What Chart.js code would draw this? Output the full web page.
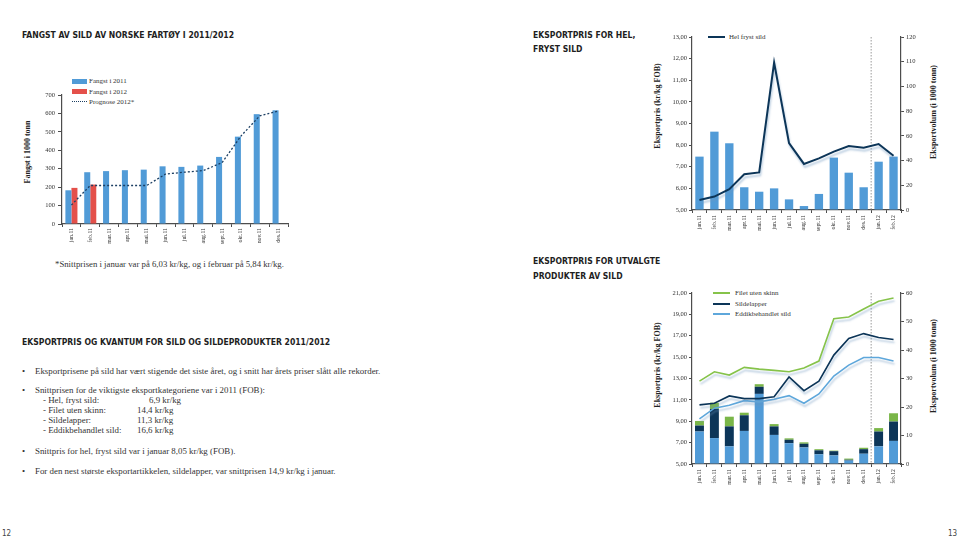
<!DOCTYPE html>
<html><head><meta charset="utf-8">
<script src="https://cdn.jsdelivr.net/npm/chart.js@4"></script>
<style>
body{margin:0;background:#fff;}
#page{position:relative;width:959px;height:538px;overflow:hidden;background:#fff;font-family:'Liberation Serif','DejaVu Serif',serif;color:#2a2a2a;}
.h{position:absolute;font-family:'Liberation Sans Narrow','DejaVu Sans Condensed',sans-serif;font-weight:bold;font-size:9.3px;color:#1e1e1e;white-space:nowrap;line-height:14px;transform:scaleX(0.92);transform-origin:0 0;}
.t{position:absolute;font-size:8.9px;white-space:nowrap;line-height:10px;color:#333;}
canvas{position:absolute;}
.lg{position:absolute;font-size:7px;white-space:nowrap;line-height:8px;color:#333;}
.sw{position:absolute;}
.vt{position:absolute;font-weight:bold;font-size:8px;white-space:nowrap;line-height:9px;color:#222;transform:translate(-50%,-50%) rotate(-90deg);}
.pn{position:absolute;font-family:'Liberation Sans Narrow','DejaVu Sans Condensed',sans-serif;font-size:8px;line-height:10px;color:#444;}
</style></head>
<body>
<div id="page">
  <div class="h" style="left:22px;top:28px;">FANGST AV SILD AV NORSKE FARTØY I 2011/2012</div>
  <div class="h" style="left:533px;top:28px;">EKSPORTPRIS FOR HEL,<br>FRYST SILD</div>
  <div class="h" style="left:533px;top:254px;line-height:14.5px;">EKSPORTPRIS FOR UTVALGTE<br>PRODUKTER AV SILD</div>
  <div class="h" style="left:22px;top:334.5px;">EKSPORTPRIS OG KVANTUM FOR SILD OG SILDEPRODUKTER 2011/2012</div>

  <div class="t" style="left:22px;top:366px;">•</div>
  <div class="t" style="left:35px;top:366px;">Eksportprisene på sild har vært stigende det siste året, og i snitt har årets priser slått alle rekorder.</div>
  <div class="t" style="left:22px;top:384.5px;">•</div>
  <div class="t" style="left:35px;top:384.5px;">Snittprisen for de viktigste eksportkategoriene var i 2011 (FOB):</div>
  <div class="t" style="left:43px;top:394.5px;">- Hel, fryst sild:</div>
  <div class="t" style="left:149px;top:394.5px;">6,9 kr/kg</div>
  <div class="t" style="left:43px;top:404.5px;">- Filet uten skinn:</div>
  <div class="t" style="left:137px;top:404.5px;">14,4 kr/kg</div>
  <div class="t" style="left:43px;top:414.5px;">- Sildelapper:</div>
  <div class="t" style="left:137px;top:414.5px;">11,3 kr/kg</div>
  <div class="t" style="left:43px;top:424.5px;">- Eddikbehandlet sild:</div>
  <div class="t" style="left:137px;top:424.5px;">16,6 kr/kg</div>
  <div class="t" style="left:22px;top:445.5px;">•</div>
  <div class="t" style="left:35px;top:445.5px;">Snittpris for hel, fryst sild var i januar 8,05 kr/kg (FOB).</div>
  <div class="t" style="left:22px;top:466px;">•</div>
  <div class="t" style="left:35px;top:466px;">For den nest største eksportartikkelen, sildelapper, var snittprisen 14,9 kr/kg i januar.</div>

  <div class="t" style="left:55px;top:259px;font-size:8.75px;">*Snittprisen i januar var på 6,03 kr/kg, og i februar på 5,84 kr/kg.</div>

  <div class="pn" style="left:2px;top:529px;">12</div>
  <div class="pn" style="left:948px;top:529px;">13</div>

  <!-- axis titles -->
  <div class="vt" style="left:26.7px;top:151.7px;">Fangst i 1000 tonn</div>
  <div class="vt" style="left:656.5px;top:106.3px;">Eksportpris (kr/kg FOB)</div>
  <div class="vt" style="left:932.7px;top:111.7px;">Eksportvolum (i 1000 tonn)</div>
  <div class="vt" style="left:657px;top:365px;">Eksportpris (kr/kg FOB)</div>
  <div class="vt" style="left:932.7px;top:365.8px;">Eksportvolum (i 1000 tonn)</div>

  <!-- legends -->
  <div class="sw" style="left:72px;top:78.5px;width:15px;height:5px;background:#519bd7;"></div>
  <div class="lg" style="left:89px;top:77px;">Fangst i 2011</div>
  <div class="sw" style="left:72px;top:89.2px;width:15px;height:5px;background:#e4504a;"></div>
  <div class="lg" style="left:89px;top:87.7px;">Fangst i 2012</div>
  <div class="sw" style="left:72px;top:101px;width:15px;height:0;border-top:1.3px dotted #1c3f63;"></div>
  <div class="lg" style="left:89px;top:97.7px;">Prognose 2012*</div>

  <div class="sw" style="left:708px;top:35.7px;width:17px;height:2px;background:#0c3558;"></div>
  <div class="lg" style="left:729px;top:32.7px;">Hel fryst sild</div>

  <div class="sw" style="left:713px;top:291.7px;width:17px;height:2px;background:#86c34a;"></div>
  <div class="lg" style="left:735px;top:288.7px;">Filet uten skinn</div>
  <div class="sw" style="left:713px;top:302.7px;width:17px;height:2px;background:#0c3558;"></div>
  <div class="lg" style="left:735px;top:299.7px;">Sildelapper</div>
  <div class="sw" style="left:713px;top:313px;width:17px;height:2px;background:#5ea7db;"></div>
  <div class="lg" style="left:735px;top:310px;">Eddikbehandlet sild</div>

  <canvas id="c1" width="273" height="170" style="left:18px;top:85px;"></canvas>
  <canvas id="c2" width="278" height="218" style="left:648px;top:27px;"></canvas>
  <canvas id="c3" width="278" height="216" style="left:648px;top:283px;"></canvas>
</div>
<script>
// ---- Chart 1: Fangst av sild ----
const months2011 = ['jan.11','feb.11','mar.11','apr.11','mai.11','jun.11','jul.11','aug.11','sept.11','okt.11','nov.11','des.11'];
const fangst2011 = [183, 281, 287, 292, 295, 313, 310, 317, 364, 474, 596, 617];
const fangst2012 = [196, 214, null, null, null, null, null, null, null, null, null, null];
const prognose2012 = [103, 209, 209, 209, 209, 271, 281, 290, 333, 477, 587, 614];

// ---- Chart 2: Hel fryst sild ----
const months1112 = ['jan.11','feb.11','mar.11','apr.11','mai.11','jun.11','jul.11','aug.11','sept.11','okt.11','nov.11','des.11','jan.12','feb.12'];
const helFrystPris = [5.46, 5.62, 5.96, 6.65, 6.74, 11.82, 8.09, 7.13, 7.39, 7.70, 7.96, 7.88, 8.05, 7.51];
const helFrystVolum = [43.2, 63.4, 54.0, 18.4, 14.8, 17.5, 8.6, 3.2, 13.0, 42.4, 30.2, 18.4, 39.1, 43.2];
const rightTicks2 = ['0','20','40','60','80','100','110','120'];

// ---- Chart 3: Utvalgte produkter ----
const prisFilet = [12.76, 13.63, 13.32, 14.04, 13.88, 13.76, 13.63, 13.98, 14.63, 18.60, 18.76, 19.50, 20.22, 20.53];
const prisSildelapper = [10.53, 10.68, 11.37, 11.12, 11.12, 11.30, 13.14, 11.86, 12.76, 15.19, 16.74, 17.20, 16.83, 16.65];
const prisEddik = [9.22, 10.22, 10.50, 10.93, 10.81, 11.06, 11.40, 10.68, 11.55, 13.23, 14.25, 14.97, 14.97, 14.63];
const volumEddik = [11.4, 9.1, 6.2, 11.6, 24.6, 10.2, 7.3, 5.8, 3.4, 3.0, 1.2, 3.6, 6.2, 8.1];
const volumSildelapper = [2.1, 10.2, 7.0, 5.5, 2.5, 3.0, 1.2, 1.3, 1.4, 1.5, 0.3, 1.6, 5.2, 6.8];
const volumFilet = [1.6, 2.2, 3.4, 0.9, 0.9, 0.8, 0.5, 0.5, 0.4, 0.2, 0.4, 0.5, 1.2, 2.9];

Chart.defaults.font.family = "'Liberation Serif','DejaVu Serif',serif";
Chart.defaults.color = '#333';
const axisColor = '#4d4d4d';

const shadowPlugin = {
  id: 'lineShadow',
  beforeDatasetDraw(chart, args) {
    const ds = chart.data.datasets[args.index];
    if (ds.shadow) {
      const c = chart.ctx; c.save();
      c.shadowColor = 'rgba(110,150,190,0.45)';
      c.shadowBlur = 2; c.shadowOffsetX = 1; c.shadowOffsetY = 3;
    }
  },
  afterDatasetDraw(chart, args) {
    const ds = chart.data.datasets[args.index];
    if (ds.shadow) chart.ctx.restore();
  }
};
const sepPlugin = {
  id: 'sep',
  beforeDatasetsDraw(chart) {
    const x = chart.scales.x;
    const px = (x.getPixelForValue(11) + x.getPixelForValue(12)) / 2;
    const c = chart.ctx; c.save();
    c.strokeStyle = '#9a9a9a'; c.lineWidth = 1; c.setLineDash([1.5, 1.5]);
    c.beginPath(); c.moveTo(px, chart.chartArea.top); c.lineTo(px, chart.chartArea.bottom); c.stroke();
    c.restore();
  }
};

function xScale(h, pad) {
  return {
    grid: { display: true, drawOnChartArea: false, drawTicks: true, tickLength: 3, color: axisColor, offset: true },
    border: { display: true, color: axisColor, width: 1.2 },
    ticks: { font: { size: 5.8 }, color: '#333', maxRotation: 90, minRotation: 90, padding: pad, autoSkip: false },
    afterFit: s => { s.height = h; }
  };
}
function yScale(opts) {
  return Object.assign({
    grid: { display: true, drawOnChartArea: false, drawTicks: true, tickLength: 3, color: axisColor },
    border: { display: true, color: axisColor, width: 1.2 }
  }, opts);
}
const base = {
  responsive: false, animation: false, events: [],
  plugins: { legend: { display: false }, tooltip: { enabled: false } }
};
const comma = v => v.toFixed(2).replace('.', ',');

new Chart(document.getElementById('c1'), {
  type: 'bar',
  data: { labels: months2011, datasets: [
    { type: 'line', label: 'Prognose 2012*', data: prognose2012, borderColor: '#1c3f63', borderWidth: 1.3, borderDash: [2, 2], pointRadius: 0, tension: 0, fill: false, order: 0 },
    { label: 'Fangst i 2011', data: fangst2011, backgroundColor: '#519bd7', categoryPercentage: 0.64, barPercentage: 1, order: 1 },
    { label: 'Fangst i 2012', data: fangst2012, backgroundColor: '#e4504a', categoryPercentage: 0.64, barPercentage: 1, order: 1 }
  ]},
  options: Object.assign({}, base, {
    layout: { padding: { top: 10, right: 3, left: 0, bottom: 0 } },
    scales: {
      x: xScale(31, 1),
      y: yScale({ min: 0, max: 700, ticks: { stepSize: 100, font: { size: 6.5 }, padding: 3, color: '#333' },
        grid: { display: true, drawOnChartArea: false, drawTicks: true, tickLength: 4, color: axisColor },
        afterFit: s => { s.width = 44; } })
    }
  })
});

new Chart(document.getElementById('c2'), {
  type: 'bar',
  data: { labels: months1112, datasets: [
    { type: 'line', label: 'Hel fryst sild', data: helFrystPris, yAxisID: 'y', borderColor: '#0c3558', borderWidth: 2, pointRadius: 0, tension: 0, fill: false, order: 0, shadow: true },
    { label: 'Eksportvolum', data: helFrystVolum, yAxisID: 'y1', backgroundColor: '#519bd7', categoryPercentage: 0.56, barPercentage: 1, order: 1 }
  ]},
  options: Object.assign({}, base, {
    layout: { padding: { top: 10, right: 0, left: 0, bottom: 0 } },
    scales: {
      x: xScale(35, 2),
      y: yScale({ position: 'left', min: 5, max: 13, ticks: { stepSize: 1, font: { size: 6.5 }, padding: 2, callback: v => comma(v) },
        afterFit: s => { s.width = 44; } }),
      y1: yScale({ position: 'right', min: 0, max: 140, ticks: { stepSize: 20, font: { size: 6.5 }, padding: 2, callback: (v, i) => rightTicks2[i] },
        afterFit: s => { s.width = 25; } })
    }
  }),
  plugins: [shadowPlugin, sepPlugin]
});

new Chart(document.getElementById('c3'), {
  type: 'bar',
  data: { labels: months1112, datasets: [
    { type: 'line', label: 'Filet uten skinn', data: prisFilet, yAxisID: 'y', borderColor: '#86c34a', borderWidth: 1.6, pointRadius: 0, tension: 0, fill: false, order: 0, shadow: true },
    { type: 'line', label: 'Sildelapper', data: prisSildelapper, yAxisID: 'y', borderColor: '#0c3558', borderWidth: 1.6, pointRadius: 0, tension: 0, fill: false, order: 0, shadow: true },
    { type: 'line', label: 'Eddikbehandlet sild', data: prisEddik, yAxisID: 'y', borderColor: '#5ea7db', borderWidth: 1.6, pointRadius: 0, tension: 0, fill: false, order: 0, shadow: true },
    { label: 'Eddikbehandlet sild (volum)', data: volumEddik, yAxisID: 'y1', stack: 'v', backgroundColor: '#519bd7', categoryPercentage: 0.6, barPercentage: 1, order: 1 },
    { label: 'Sildelapper (volum)', data: volumSildelapper, yAxisID: 'y1', stack: 'v', backgroundColor: '#0c3558', categoryPercentage: 0.6, barPercentage: 1, order: 1 },
    { label: 'Filet uten skinn (volum)', data: volumFilet, yAxisID: 'y1', stack: 'v', backgroundColor: '#7ab648', categoryPercentage: 0.6, barPercentage: 1, order: 1 }
  ]},
  options: Object.assign({}, base, {
    layout: { padding: { top: 10, right: 0, left: 0, bottom: 0 } },
    scales: {
      x: Object.assign(xScale(35, 2), { stacked: true }),
      y: yScale({ position: 'left', min: 5, max: 21, ticks: { stepSize: 2, font: { size: 6.5 }, padding: 2, callback: v => comma(v) },
        afterFit: s => { s.width = 44; } }),
      y1: yScale({ position: 'right', stacked: true, min: 0, max: 60, ticks: { stepSize: 10, font: { size: 6.5 }, padding: 2 },
        afterFit: s => { s.width = 25; } })
    }
  }),
  plugins: [shadowPlugin, sepPlugin]
});
</script>
</body></html>
